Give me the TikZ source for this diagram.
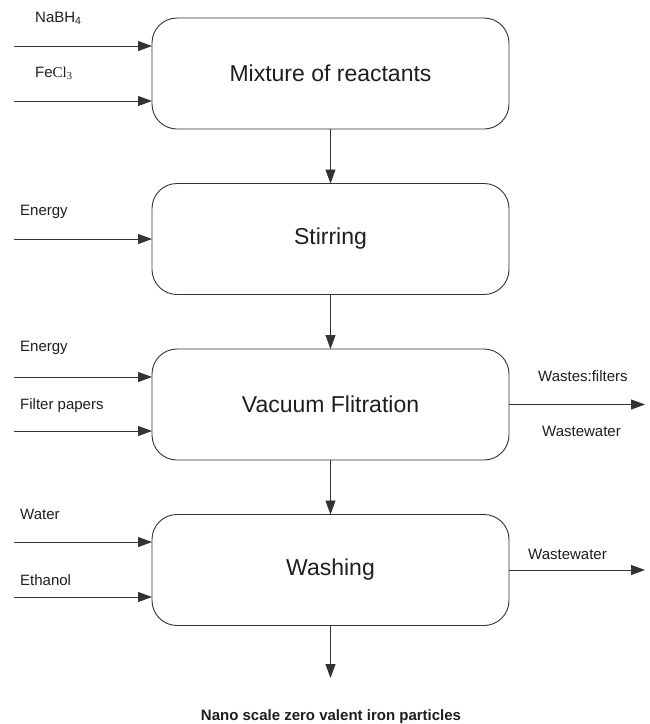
\documentclass[tikz,border=0pt]{standalone}
\usepackage{fontspec}
\setmainfont{Liberation Sans}
\newfontfamily\clfont{Liberation Serif}
\usepackage{tikz}
\usetikzlibrary{arrows.meta, positioning}
\usepackage{xcolor}
\definecolor{linegray}{HTML}{333333}
\definecolor{textgray}{HTML}{1E1E1E}

\begin{document}
\begin{tikzpicture}[
      x=1pt, y=-1pt,
      >={Triangle[length=14pt,width=10pt]},
      node distance=54.5pt,
      stage/.style={
        rectangle, draw=linegray, line width=0.9pt, rounded corners=25pt,
        minimum width=357pt, minimum height=111pt, outer sep=0pt,
        font=\fontsize{23}{27}\selectfont, text=textgray
      },
      lbl/.style={anchor=west, inner sep=0pt, font=\fontsize{15}{18}\selectfont, text=textgray},
      flow/.style={->, draw=linegray, line width=0.9pt}
    ]
    \useasboundingbox (0,0) rectangle (650,724);

    \node[stage] (mix) at (330.5,73.5) {Mixture of reactants};
    \node[stage, below=of mix]  (stir) {Stirring};
    \node[stage, below=of stir] (filt) {Vacuum Flitration};
    \node[stage, below=of filt] (wash) {Washing};

    % inputs
    \node[lbl] (nabhlbl) at (35,18)  {NaBH\textsubscript{4}};
    \node[lbl] (fecllbl) at (35,73)  {Fe{\clfont Cl\textsubscript{3}}};
    \node[lbl] (en1lbl)  at (20,212) {Energy};
    \node[lbl] (en2lbl)  at (20,348) {Energy};
    \node[lbl] (fplbl)   at (20,406) {Filter papers};
    \node[lbl] (watlbl)  at (20,514) {Water};
    \node[lbl] (ethlbl)  at (20,580) {Ethanol};

    \coordinate (nabh) at (14,46);
    \coordinate (fecl) at (14,101);
    \coordinate (en1)  at (14,239);
    \coordinate (en2)  at (14,377);
    \coordinate (fp)   at (14,431);
    \coordinate (wat)  at (14,542);
    \coordinate (eth)  at (14,597);

    \foreach \c/\b in {nabh/mix, fecl/mix, en1/stir, en2/filt, fp/filt, wat/wash, eth/wash}
      \draw[flow] (\c) -- (\c -| \b.west);

    % outputs
    \node[lbl] (wflbl)  at (538,376) {Wastes:filters};
    \node[lbl] (ww1lbl) at (542,431) {Wastewater};
    \node[lbl] (ww2lbl) at (528,554) {Wastewater};
    \coordinate (ww1) at (645,405);
    \coordinate (ww2) at (645,570);
    \draw[flow] (filt.east) -- (filt.east -| ww1);
    \draw[flow] (wash.east) -- (wash.east -| ww2);

    \foreach \a/\b in {mix/stir, stir/filt, filt/wash}
      \draw[flow] (\a) -- (\b);

    % product
    \node[font=\fontsize{15}{18}\selectfont\bfseries, text=textgray] (nzvi) at (331,717)
      {Nano scale zero valent iron particles};
    \coordinate (prod) at (330.5,678);
    \draw[flow] (wash) -- (prod);
  \end{tikzpicture}
\end{document}
